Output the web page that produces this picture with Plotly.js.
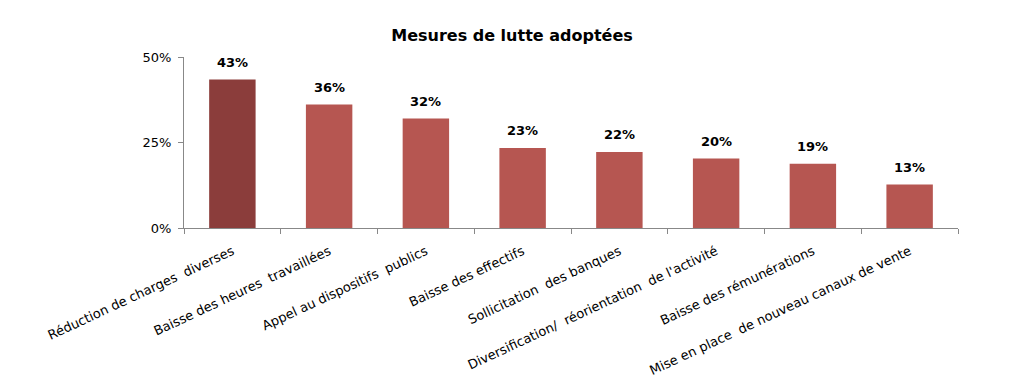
<!DOCTYPE html>
<html><head><meta charset="utf-8">
<script src="https://cdn.plot.ly/plotly-3.0.1.min.js"></script>
<style>html,body{margin:0;padding:0;background:#fff}#c{width:1024px;height:391px}</style>
</head><body><div id="c"></div>
<script>
const categories = ["Réduction de charges  diverses","Baisse des heures  travaillées","Appel au dispositifs  publics","Baisse des effectifs","Sollicitation  des banques","Diversification/  réorientation  de l'activité","Baisse des rémunérations","Mise en place  de nouveau canaux de vente"];
const values = [43.4, 36.1, 32.0, 23.4, 22.2, 20.3, 18.8, 12.7];
const valueLabels = ["43%","36%","32%","23%","22%","20%","19%","13%"];
const barColors = ["#8B3D3B","#B65651","#B65651","#B65651","#B65651","#B65651","#B65651","#B65651"];
const yTickVals = [0, 25, 50];
const yTickText = ["0%", "25%", "50%"];

const annotations = categories.map((c, i) => ({
  x: c, y: values[i], text: "<b>" + valueLabels[i] + "</b>", showarrow: false,
  yanchor: "bottom", yshift: 8,
  font: {family: "DejaVu Sans", size: 13, color: "#000"}
}));

Plotly.newPlot("c", [{
  type: "bar", x: categories, y: values,
  marker: {color: barColors},
  width: 0.48,
  hoverinfo: "none"
}], {
  width: 1024, height: 391,
  margin: {l: 184, r: 66, t: 57, b: 163},
  paper_bgcolor: "#fff", plot_bgcolor: "#fff",
  title: {text: "<b>Mesures de lutte adoptées</b>", x: 0.5, xanchor: "center", y: 0.91, yanchor: "middle",
    font: {family: "DejaVu Sans", size: 16, color: "#000"}},
  annotations: annotations,
  xaxis: {type: "category", tickson: "boundaries", ticks: "outside", ticklen: 5, tickcolor: "#888",
    showline: true, linecolor: "#888", linewidth: 1, tickangle: -25, showgrid: false,
    ticklabelstandoff: 10,
    tickfont: {family: "DejaVu Sans", size: 13, color: "#000"}},
  yaxis: {range: [0, 50], tickvals: yTickVals, ticktext: yTickText, ticks: "outside", ticklen: 5, tickcolor: "#888",
    showline: true, linecolor: "#888", linewidth: 1, showgrid: false, zeroline: false,
    ticklabelstandoff: 4,
    tickfont: {family: "DejaVu Sans", size: 13, color: "#000"}},
  showlegend: false, bargap: 0.52
}, {staticPlot: true});
</script></body></html>
